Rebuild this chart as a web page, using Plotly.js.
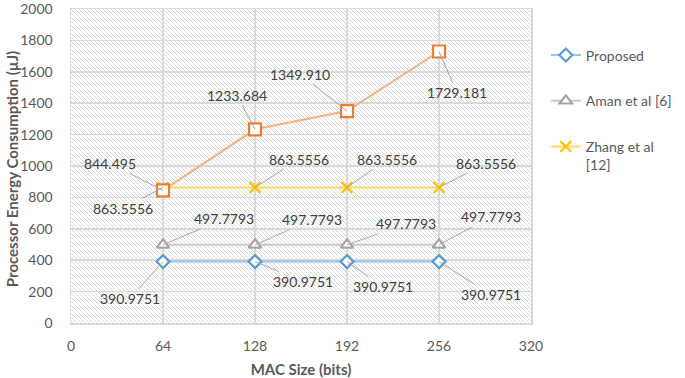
<!DOCTYPE html>
<html>
<head>
<meta charset="utf-8">
<script src="https://cdn.plot.ly/plotly-3.0.1.min.js"></script>
<style>
html,body{margin:0;padding:0;background:#fff;}
#wrap{position:relative;width:685px;height:378px;background:#fff;}
#hatch{position:absolute;left:71px;top:9px;width:461px;height:314px;background-color:#fff;
  background-image:url("data:image/svg+xml;utf8,%3Csvg xmlns='http://www.w3.org/2000/svg' width='4' height='4'%3E%3Cpath d='M0,0 L4,4 M-1,3 L1,5 M3,-1 L5,1' stroke='%23cfcfcf' stroke-width='0.8'/%3E%3C/svg%3E");
  background-size:4px 4px;}
#chart{position:absolute;left:0;top:0;width:685px;height:378px;}
.main-svg{background:transparent !important;}
</style>
</head>
<body>
<div id="wrap"><div id="hatch"></div><div id="chart"></div></div>
<script>
// ---- data ----
const macSizes = [64, 128, 192, 256];
const proposed = [390.9751, 390.9751, 390.9751, 390.9751];
const aman = [497.7793, 497.7793, 497.7793, 497.7793];
const zhang = [863.5556, 863.5556, 863.5556, 863.5556];
const other = [844.495, 1233.684, 1349.910, 1729.181];
const xTicks = [0, 64, 128, 192, 256, 320];
const seriesNames = ['Proposed', 'Aman et al [6]', 'Zhang et al<br>[12]'];
const xTitle = 'MAC Size (bits)';
const yTitle = 'Processor Energy Consumption (µJ)';

// ---- styles ----
const font = 'Lato, "Liberation Sans", sans-serif';
const textColor = '#595959';
const labelColor = '#404040';
const gridColor = '#d9d9d9';

// label offsets (pixels from point to label centre)
const offProposed = [[-33, 37], [48, 20], [36, 25], [52, 33]];
const offAman = [[61, -26], [57, -25], [59, -21], [52, -28]];
const offZhang = [[-40, 21], [44, -28], [40, -28], [47, -24]];
const offOther = [[-53, -27], [-18, -34], [-47, -37], [18, 41]];

function trace(name, y, lineColor, markerLine, symbol, size, group, show) {
  return {
    x: macSizes, y: y, name: name, type: 'scatter', mode: 'lines+markers',
    legendgroup: group, showlegend: show,
    line: {color: lineColor, width: 2},
    marker: {symbol: symbol, size: size, color: symbol === 'x-thin' ? markerLine : '#ffffff',
             line: {color: markerLine, width: 2.2}},
    hoverinfo: 'x+y'
  };
}

const traces = [
  trace(seriesNames[0], proposed, '#9dc3e6', '#5b9bd5', 'diamond', 10, 'a', true),
  trace(seriesNames[1], aman, '#c9c9c9', '#a5a5a5', 'triangle-up', 11, 'b', true),
  trace(seriesNames[2], zhang, '#ffd966', '#ffc000', 'x-thin', 11, 'c', true),
  trace('Series 4', other, '#f4b183', '#ed7d31', 'square', 12, 'd', false)
];

const annotations = [];
function addLabels(vals, offs, decimals) {
  vals.forEach((v, i) => {
    annotations.push({
      x: macSizes[i], y: v, xref: 'x', yref: 'y',
      text: v.toFixed(decimals), showarrow: true, arrowhead: 0,
      arrowwidth: 1, arrowcolor: '#a6a6a6', ax: offs[i][0], ay: offs[i][1],
      standoff: 0, startstandoff: 0,
      font: {family: font, size: 14, color: labelColor}
    });
  });
}
addLabels(proposed, offProposed, 4);
addLabels(aman, offAman, 4);
addLabels(zhang, offZhang, 4);
addLabels(other, offOther, 3);

annotations.push({
  text: '<b>' + yTitle + '</b>', textangle: -90, showarrow: false,
  xref: 'paper', yref: 'paper', x: 0, y: 0.49, xanchor: 'center', yanchor: 'middle', xshift: -59,
  font: {family: font, size: 15, color: textColor}
});

const layout = {
  width: 685, height: 378,
  margin: {l: 71, r: 153, t: 9, b: 55},
  paper_bgcolor: 'rgba(0,0,0,0)', plot_bgcolor: 'rgba(0,0,0,0)',
  font: {family: font, size: 14, color: textColor},
  xaxis: {
    range: [0, 320], tickvals: xTicks, ticktext: xTicks.map(String),
    showgrid: true, gridcolor: gridColor, gridwidth: 1.5,
    zeroline: false, showline: true, mirror: true, linecolor: gridColor, linewidth: 1.5,
    ticks: '', ticklabelstandoff: 10, ticklabeloverflow: 'allow',
    tickfont: {family: font, size: 14, color: textColor},
    title: {text: '<b>' + xTitle + '</b>', standoff: 12, font: {family: font, size: 15, color: textColor}}
  },
  yaxis: {
    range: [0, 2000], dtick: 200, tick0: 0,
    showgrid: true, gridcolor: gridColor, gridwidth: 1.5,
    zeroline: false, showline: true, mirror: true, linecolor: gridColor, linewidth: 1.5,
    ticks: '', ticklabelstandoff: 14, ticklabeloverflow: 'allow',
    tickfont: {family: font, size: 14, color: textColor}
  },
  legend: {
    x: 1.030, xanchor: 'left', y: 0.903, yanchor: 'top',
    traceorder: 'grouped', tracegroupgap: 24.5, valign: 'top',
    font: {family: font, size: 14, color: textColor},
    bgcolor: 'rgba(0,0,0,0)'
  },
  annotations: annotations,
  showlegend: true
};

Plotly.newPlot('chart', traces, layout, {displayModeBar: false, staticPlot: true});
</script>
</body>
</html>
